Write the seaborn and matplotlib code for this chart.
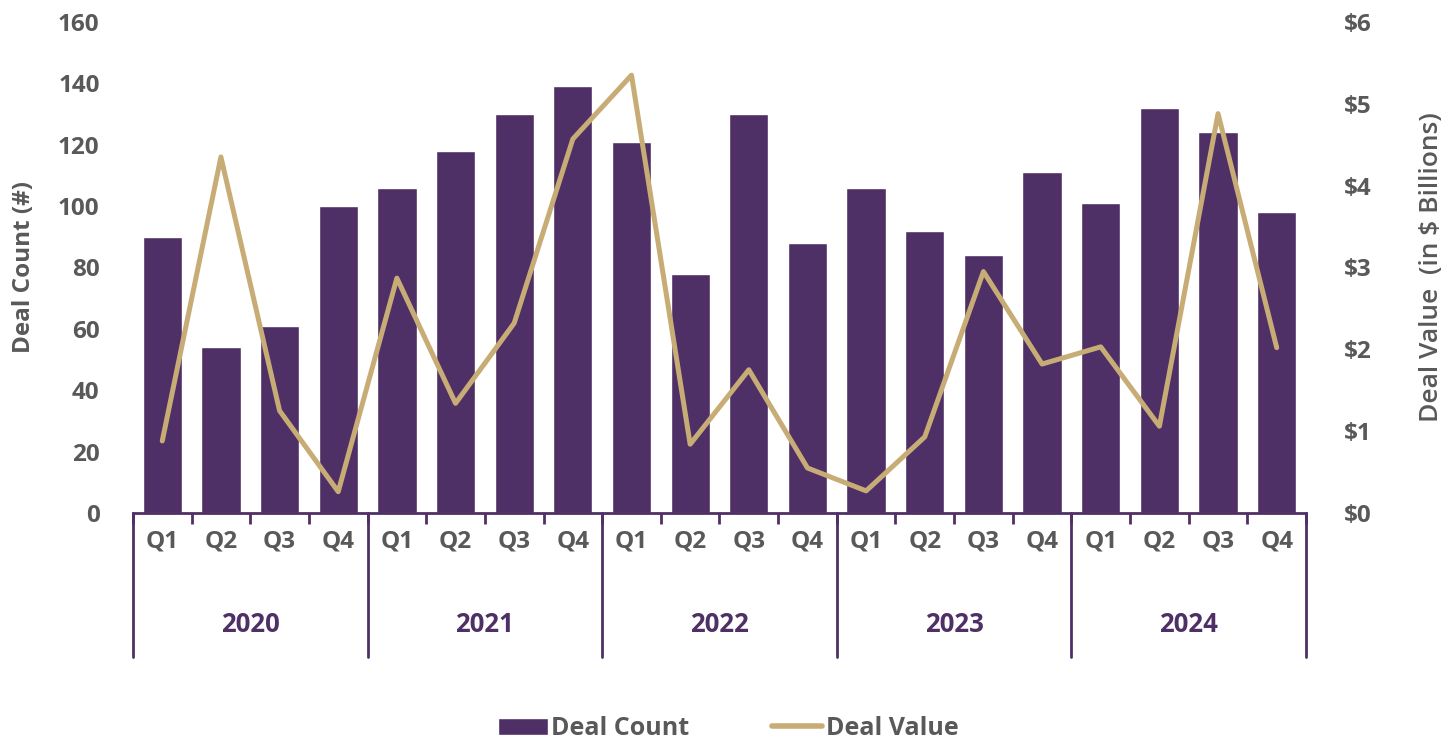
import matplotlib
matplotlib.use("Agg")
import matplotlib.pyplot as plt
import matplotlib.transforms as mtransforms
from matplotlib.lines import Line2D
from matplotlib.patches import Patch
import pandas as pd
import seaborn as sns

# data
years = ["2020", "2021", "2022", "2023", "2024"]
quarters = ["Q1", "Q2", "Q3", "Q4"]
deal_count = [90, 54, 61, 100,
              106, 118, 130, 139,
              121, 78, 130, 88,
              106, 92, 84, 111,
              101, 132, 124, 98]
deal_value = [0.88, 4.35, 1.25, 0.26,
              2.87, 1.34, 2.32, 4.57,
              5.35, 0.84, 1.75, 0.55,
              0.27, 0.93, 2.95, 1.82,
              2.03, 1.06, 4.88, 2.02]

purple = "#4F3066"
tan = "#C8AC76"
grey = "#595959"

periods = [f"{y} {q}" for y in years for q in quarters]
df = pd.DataFrame({"period": periods, "pos": range(len(periods)),
                   "count": deal_count, "value": deal_value})

sns.set_theme(style="white")
plt.rcParams["font.family"] = ["Open Sans", "DejaVu Sans"]

fig = plt.figure(figsize=(14.56, 7.4), dpi=100)
ax = fig.add_axes([0.0913, 0.3068, 0.8057, 0.6635])

sns.barplot(data=df, x="period", y="count", color=purple, width=0.67,
            saturation=1, ax=ax)
ax.set_ylim(0, 160)
ax.set_yticks(range(0, 161, 20))
ax.set_xlim(-0.5, len(periods) - 0.5)

ax2 = ax.twinx()
sns.lineplot(data=df, x="pos", y="value", color=tan, linewidth=3.6, ax=ax2,
             solid_capstyle="round", solid_joinstyle="round")
ax2.set_ylim(0, 6)
ax2.set_yticks(range(0, 7))
ax2.set_yticklabels([f"${v}" for v in range(0, 7)])
ax2.set_xlim(-0.5, len(periods) - 0.5)

for a in (ax, ax2):
    for s in ("top", "left", "right"):
        a.spines[s].set_visible(False)
ax2.spines["bottom"].set_visible(False)
ax.spines["bottom"].set_color(purple)
ax.spines["bottom"].set_linewidth(2)

ax.tick_params(axis="y", length=0, pad=24, labelsize=17.5, labelcolor=grey)
ax2.tick_params(axis="y", length=0, pad=27, labelsize=17.5, labelcolor=grey)
for lab in ax.get_yticklabels() + ax2.get_yticklabels():
    lab.set_fontweight("bold")

ax.set_ylabel("Deal Count (#)", fontsize=17.5, fontweight="bold", color=grey, labelpad=16)
ax2.set_ylabel("Deal Value  (in $ Billions)", fontsize=19, fontweight="semibold",
               color=grey, labelpad=34)
ax.set_xlabel("")
ax2.set_xlabel("")

# quarter labels and small ticks between quarters
ax.set_xticks(range(len(periods)))
ax.set_xticklabels(quarters * len(years), fontsize=17.5, fontweight="bold", color=grey)
ax.tick_params(axis="x", which="major", length=0, pad=12)
ax.set_xticks([i + 0.5 for i in range(-1, len(periods))], minor=True)
ax.tick_params(axis="x", which="minor", length=8, width=2, color=purple, bottom=True)

# year groups
trans = mtransforms.blended_transform_factory(ax.transData, ax.transAxes)
for k in range(len(years) + 1):
    x = k * 4 - 0.5
    ax.add_line(Line2D([x, x], [0, -0.293], transform=trans, color=purple,
                       linewidth=2, clip_on=False))
for k, y in enumerate(years):
    ax.text(k * 4 + 1.5, -0.228, y, transform=trans, ha="center", va="center",
            fontsize=18.5, fontweight="bold", color=purple)

handles = [Patch(facecolor=purple, label="Deal Count"),
           Line2D([0], [0], color=tan, linewidth=4, solid_capstyle="round", label="Deal Value")]
leg = fig.legend(handles=handles, loc="lower center", bbox_to_anchor=(0.5, -0.032), ncol=2,
                 frameon=False, handlelength=2.0, handletextpad=0.15, columnspacing=3.3,
                 prop={"size": 18, "weight": "bold"})
for t in leg.get_texts():
    t.set_color(grey)

fig.savefig("out.png", dpi=100)
